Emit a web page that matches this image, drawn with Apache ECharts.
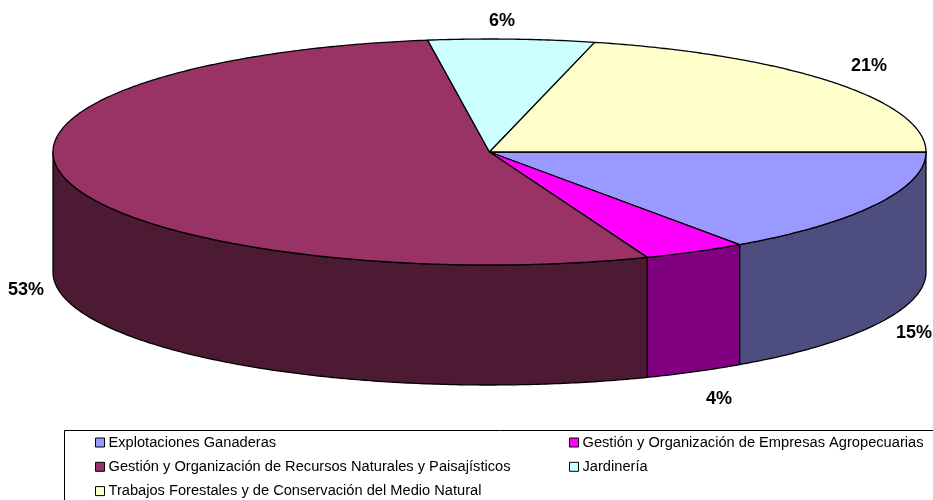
<!DOCTYPE html>
<html>
<head>
<meta charset="utf-8">
<style>
  html, body { margin: 0; padding: 0; background: #fff; }
  #chart { width: 933px; height: 500px; }
</style>
<script src="https://cdn.jsdelivr.net/npm/echarts@6/dist/echarts.min.js"></script>
</head>
<body>
<div id="chart"></div>
<script>
const categories = [
  'Explotaciones Ganaderas',
  'Gestión y Organización de Empresas Agropecuarias',
  'Gestión y Organización de Recursos Naturales y Paisajísticos',
  'Jardinería',
  'Trabajos Forestales y de Conservación del Medio Natural'
]
const values = [15.2, 3.8, 53.3, 6.1, 21.0]
const topColors = ['#9999ff', '#ff00ff', '#993366', '#ccffff', '#ffffcc']
const sideColors = ['#4d4d80', '#800080', '#4d1a33', '#668080', '#808066']

// pie geometry, the tilted disc is an ellipse
const cx = 489.5
const cy = 152
const rx = 436.5
const ry = 113
const depth = 120
// where the percent labels sit
const labelPos = [[914, 333], [719, 399], [26, 290], [502, 21], [869, 66]]

const total = values.reduce((a, b) => a + b, 0)
const startAngles = []
let sum = 0
values.forEach((v) => {
  startAngles.push(sum / total * Math.PI * 2)
  sum += v
})

function rim(angle, dy) {
  return [cx + rx * Math.cos(angle), cy + ry * Math.sin(angle) + dy]
}

function arcPoints(a0, a1, dy) {
  const pts = []
  const n = Math.max(2, Math.ceil((a1 - a0) / 0.01))
  for (let k = 0; k <= n; k++) {
    pts.push(rim(a0 + (a1 - a0) * k / n, dy))
  }
  return pts
}

function sliceItem(i) {
  return function (params, api) {
    const a0 = startAngles[i]
    const a1 = a0 + api.value(0) / total * Math.PI * 2
    const children = []
    const lineStyle = { stroke: '#000', lineWidth: 1.3, lineJoin: 'round' }
    // only the front half of the wall can be seen
    const sideEnd = Math.min(a1, Math.PI)
    if (a0 < Math.PI) {
      const upper = arcPoints(a0, sideEnd, 0)
      const lower = arcPoints(a0, sideEnd, depth).reverse()
      children.push({
        type: 'polygon',
        shape: { points: upper.concat(lower) },
        style: Object.assign({ fill: sideColors[i] }, lineStyle)
      })
    }
    children.push({
      type: 'polygon',
      shape: { points: [[cx, cy]].concat(arcPoints(a0, a1, 0)) },
      style: Object.assign({ fill: topColors[i] }, lineStyle)
    })
    children.push({
      type: 'text',
      x: labelPos[i][0],
      y: labelPos[i][1],
      style: {
        text: Math.round(api.value(0)) + '%',
        fill: '#000',
        font: 'bold 18px "Liberation Sans", Arial, sans-serif',
        align: 'center',
        verticalAlign: 'middle'
      }
    })
    return { type: 'group', children: children }
  }
}

const legendBase = {
  orient: 'vertical',
  top: 435,
  itemWidth: 9,
  itemHeight: 9,
  itemGap: 9.3,
  icon: 'rect',
  padding: 0,
  selectedMode: false,
  itemStyle: { borderColor: '#000', borderWidth: 1 },
  textStyle: {
    color: '#000',
    fontFamily: '"Liberation Sans", Arial, sans-serif',
    fontSize: 14.65,
    padding: [0, 0, 0, -1]
  }
}

const myechart = echarts.init(document.getElementById('chart'))
myechart.setOption({
  animation: false,
  backgroundColor: '#fff',
  graphic: [{
    type: 'rect',
    shape: { x: 64.5, y: 430.5, width: 900, height: 100 },
    style: { fill: '#fff', stroke: '#000', lineWidth: 1 },
    silent: true,
    z: -1
  }],
  legend: [
    Object.assign({}, legendBase, { left: 95, data: [categories[0], categories[2], categories[4]] }),
    Object.assign({}, legendBase, { left: 569, data: [categories[1], categories[3]] })
  ],
  series: categories.map((name, i) => ({
    type: 'custom',
    name: name,
    coordinateSystem: 'none',
    silent: true,
    itemStyle: { color: topColors[i] },
    renderItem: sliceItem(i),
    data: [[values[i]]]
  }))
})
</script>
</body>
</html>
